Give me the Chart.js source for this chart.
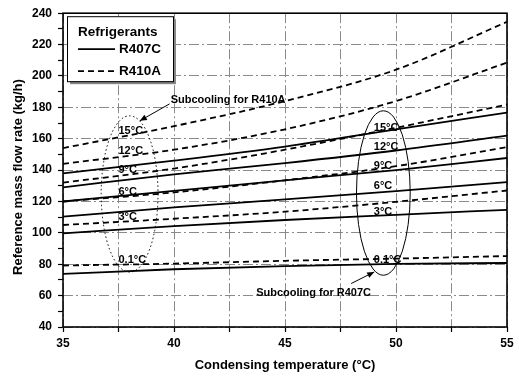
<!DOCTYPE html>
<html>
<head>
<meta charset="utf-8">
<script src="https://cdn.jsdelivr.net/npm/chart.js@4/dist/chart.umd.min.js"></script>
<style>
  html, body { margin: 0; padding: 0; background: #fff; }
  #wrap { width: 519px; height: 376px; }
</style>
</head>
<body>
<div id="wrap"><canvas id="c" width="519" height="376"></canvas></div>
<script>
// Condensing temperature (°C)
const condTemp = [35, 40, 45, 50, 55];

// Subcooling degrees, bottom to top
const subcoolLabels = ['0.1°C', '3°C', '6°C', '9°C', '12°C', '15°C'];

// R407C reference mass flow rate (kg/h) per subcooling degree
const r407c_sc01 = [73.8, 76.8, 78.8, 80.2, 80.8];
const r407c_sc03 = [99.7, 104.3, 108.2, 111.5, 114.7];
const r407c_sc06 = [110.3, 116.2, 121.3, 126.6, 132.3];
const r407c_sc09 = [120.0, 126.8, 133.5, 140.0, 147.7];
const r407c_sc12 = [129.0, 137.3, 144.5, 152.5, 162.0];
const r407c_sc15 = [137.9, 146.0, 155.0, 166.0, 176.7];

// R410A reference mass flow rate (kg/h) per subcooling degree
const r410a_sc01 = [79.2, 80.4, 82.2, 83.6, 85.2];
const r410a_sc03 = [105.0, 109.0, 113.5, 119.8, 127.0];
const r410a_sc06 = [120.0, 125.8, 133.5, 142.5, 154.7];
const r410a_sc09 = [132.0, 141.0, 153.0, 167.0, 181.8];
const r410a_sc12 = [144.0, 153.0, 166.0, 184.0, 208.5];
const r410a_sc15 = [154.0, 168.0, 184.0, 204.0, 234.5];

// Label anchors (condensing temp, flow rate) for the subcooling tags
const r410aTagX = 37.5;
const r410aTagY = [82.5, 110, 126, 140, 152, 165];
const r407cTagX = 49.0;
const r407cTagY = [82.5, 113, 130, 142.9, 154.5, 167];

// Ellipses grouping the tags: [centreX, centreY, radiusX, radiusY]
const r410aEllipse = [38.0, 124.8, 1.28, 49.8];
const r407cEllipse = [49.43, 125.4, 1.21, 52.4];

// Callouts: text anchor and arrow from -> to
const r410aNote = { text: 'Subcooling for R410A', x: 39.85, y: 184.8, from: [39.8, 182.2], to: [38.46, 171.4] };
const r407cNote = { text: 'Subcooling for R407C', x: 43.7, y: 61.4, from: [47.98, 67.7], to: [49.02, 75.1] };

const xTitle = 'Condensing temperature (°C)';
const yTitle = 'Reference mass flow rate (kg/h)';
const legendTitle = 'Refrigerants';
const seriesNames = ['R407C', 'R410A'];

const FONT = '"Liberation Sans", Arial, Helvetica, sans-serif';

const r407cSets = [r407c_sc01, r407c_sc03, r407c_sc06, r407c_sc09, r407c_sc12, r407c_sc15];
const r410aSets = [r410a_sc01, r410a_sc03, r410a_sc06, r410a_sc09, r410a_sc12, r410a_sc15];

const toPoints = arr => condTemp.map((t, i) => ({ x: t, y: arr[i] }));

const datasets = [];
r407cSets.forEach((arr, i) => datasets.push({
  label: seriesNames[0] + ' ' + subcoolLabels[i],
  data: toPoints(arr),
  borderColor: '#000',
  borderWidth: 1.8,
  pointRadius: 0,
  cubicInterpolationMode: 'monotone',
  fill: false
}));
r410aSets.forEach((arr, i) => datasets.push({
  label: seriesNames[1] + ' ' + subcoolLabels[i],
  data: toPoints(arr),
  borderColor: '#000',
  borderWidth: 1.8,
  borderDash: [6, 4],
  pointRadius: 0,
  cubicInterpolationMode: 'monotone',
  fill: false
}));

function arrow(ctx, x1, y1, x2, y2) {
  ctx.beginPath();
  ctx.moveTo(x1, y1);
  ctx.lineTo(x2, y2);
  ctx.stroke();
  const ang = Math.atan2(y2 - y1, x2 - x1);
  const L = 7, W = 3;
  ctx.beginPath();
  ctx.moveTo(x2, y2);
  ctx.lineTo(x2 - L * Math.cos(ang) + W * Math.sin(ang), y2 - L * Math.sin(ang) - W * Math.cos(ang));
  ctx.lineTo(x2 - L * Math.cos(ang) - W * Math.sin(ang), y2 - L * Math.sin(ang) + W * Math.cos(ang));
  ctx.closePath();
  ctx.fill();
}

const overlay = {
  id: 'overlay',
  afterDatasetsDraw(chart) {
    const { ctx, chartArea: a, scales: { x, y } } = chart;
    const px = v => x.getPixelForValue(v);
    const py = v => y.getPixelForValue(v);
    ctx.save();

    // plot frame
    ctx.strokeStyle = '#000';
    ctx.lineWidth = 1.6;
    ctx.setLineDash([]);
    ctx.strokeRect(a.left, a.top, a.width, a.height);

    // ellipses
    const drawEllipse = (e, dash) => {
      const cx = px(e[0]), cy = py(e[1]);
      const rx = Math.abs(px(e[0] + e[2]) - cx);
      const ry = Math.abs(py(e[1] + e[3]) - cy);
      ctx.beginPath();
      ctx.setLineDash(dash);
      ctx.lineWidth = 1;
      ctx.ellipse(cx, cy, rx, ry, 0, 0, Math.PI * 2);
      ctx.stroke();
    };
    drawEllipse(r410aEllipse, [1.5, 2.5]);
    drawEllipse(r407cEllipse, []);
    ctx.setLineDash([]);

    // subcooling tags
    ctx.fillStyle = '#000';
    ctx.font = 'bold 11px ' + FONT;
    ctx.textAlign = 'left';
    ctx.textBaseline = 'middle';
    subcoolLabels.forEach((s, i) => {
      ctx.fillText(s, px(r410aTagX), py(r410aTagY[i]));
      ctx.fillText(s, px(r407cTagX), py(r407cTagY[i]));
    });

    // callouts
    [r410aNote, r407cNote].forEach(n => {
      ctx.fillText(n.text, px(n.x), py(n.y));
      ctx.lineWidth = 1;
      arrow(ctx, px(n.from[0]), py(n.from[1]), px(n.to[0]), py(n.to[1]));
    });

    // legend box
    const lx = a.left + 4, ly = a.top + 3, lw = 106, lh = 65;
    ctx.fillStyle = '#888';
    ctx.fillRect(lx + 3, ly + 3, lw, lh);
    ctx.fillStyle = '#fff';
    ctx.fillRect(lx, ly, lw, lh);
    ctx.strokeStyle = '#000';
    ctx.lineWidth = 1;
    ctx.strokeRect(lx + 0.5, ly + 0.5, lw, lh);
    ctx.fillStyle = '#000';
    ctx.font = 'bold 13.5px ' + FONT;
    ctx.textAlign = 'left';
    ctx.fillText(legendTitle, lx + 11, ly + 16);
    ctx.lineWidth = 1.8;
    ctx.beginPath();
    ctx.moveTo(lx + 11, ly + 33);
    ctx.lineTo(lx + 48, ly + 33);
    ctx.stroke();
    ctx.fillText(seriesNames[0], lx + 52, ly + 33);
    ctx.setLineDash([6, 4]);
    ctx.beginPath();
    ctx.moveTo(lx + 11, ly + 55);
    ctx.lineTo(lx + 48, ly + 55);
    ctx.stroke();
    ctx.setLineDash([]);
    ctx.fillText(seriesNames[1], lx + 52, ly + 55);

    // y axis title
    ctx.save();
    ctx.translate(18, 177);
    ctx.rotate(-Math.PI / 2);
    ctx.textAlign = 'center';
    ctx.textBaseline = 'middle';
    ctx.font = 'bold 13px ' + FONT;
    ctx.fillText(yTitle, 0, 0);
    ctx.restore();

    ctx.restore();
  }
};

const gridDash = [10, 3, 2, 3];

new Chart(document.getElementById('c'), {
  type: 'line',
  data: { datasets },
  options: {
    responsive: false,
    animation: false,
    devicePixelRatio: 1,
    layout: { padding: { top: 12, right: 12, left: 0, bottom: 0 } },
    plugins: { legend: { display: false }, tooltip: { enabled: false } },
    scales: {
      x: {
        type: 'linear',
        min: 35, max: 55,
        afterFit: s => { s.height = 49; },
        ticks: {
          stepSize: 2.5,
          autoSkip: false,
          maxRotation: 0,
          padding: 4,
          color: '#000',
          font: { family: FONT, size: 12, weight: 'bold' },
          callback: v => (v % 5 === 0 ? v : '')
        },
        grid: {
          color: '#8a8a8a',
          lineWidth: 1,
          tickColor: '#000',
          tickLength: 5,
          tickWidth: 1.2
        },
        border: { display: false, dash: gridDash },
        title: {
          display: true,
          text: xTitle,
          color: '#000',
          font: { family: FONT, size: 13, weight: 'bold' },
          padding: { top: 0, bottom: 3 }
        }
      },
      y: {
        type: 'linear',
        min: 40, max: 240,
        afterFit: s => { s.width = 63; },
        ticks: {
          stepSize: 10,
          autoSkip: false,
          padding: 6,
          color: '#000',
          font: { family: FONT, size: 12, weight: 'bold' },
          callback: v => (v % 20 === 0 ? v : '')
        },
        grid: {
          color: c => (c.tick && c.tick.value % 20 === 0 ? '#8a8a8a' : 'rgba(0,0,0,0)'),
          lineWidth: 1,
          tickColor: '#000',
          tickLength: 5,
          tickWidth: 1.2
        },
        border: { display: false, dash: gridDash }
      }
    }
  },
  plugins: [overlay]
});
</script>
</body>
</html>
